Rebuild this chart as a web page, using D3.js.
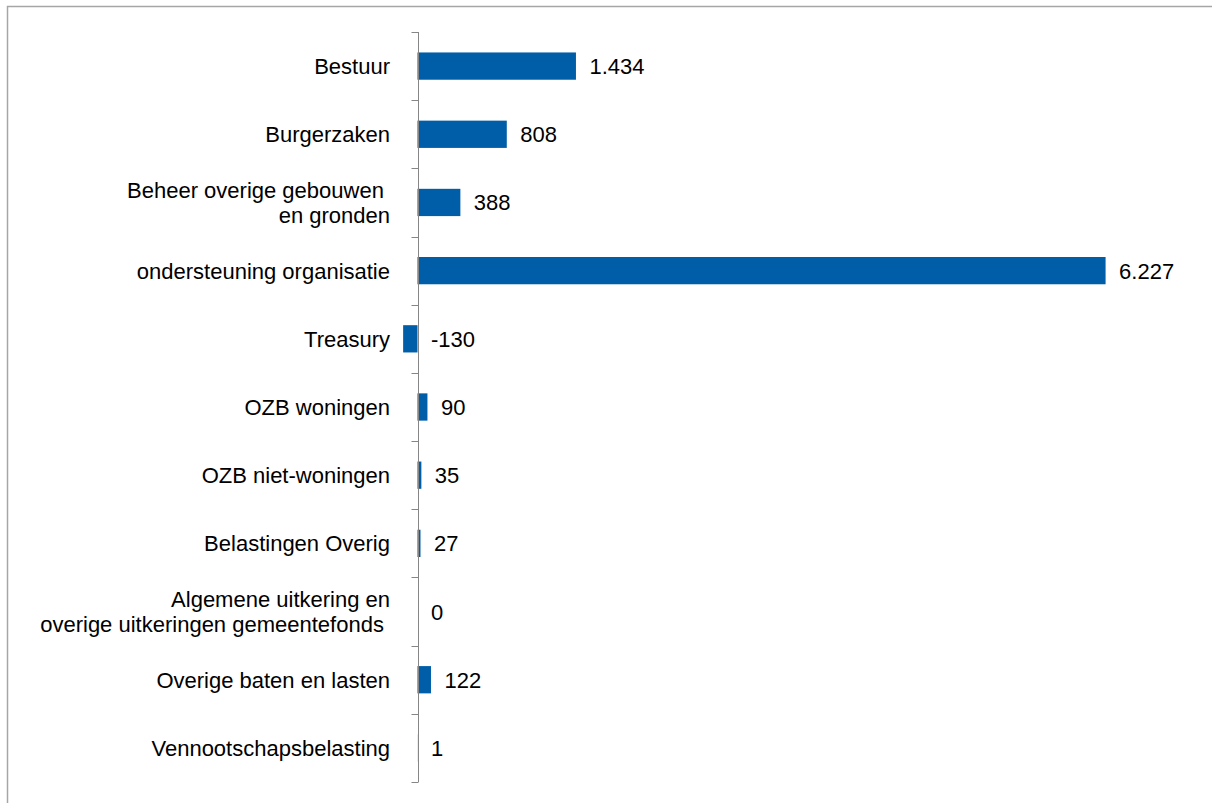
<!DOCTYPE html>
<html><head><meta charset="utf-8">
<script src="https://cdn.jsdelivr.net/npm/d3@7"></script>
<style>html,body{margin:0;padding:0;background:#fff;overflow:hidden}</style>
</head><body>
<svg id="c" width="1212" height="803"></svg>
<script>
const categories = [
  ["Bestuur"],
  ["Burgerzaken"],
  ["Beheer overige gebouwen\u00a0", "en gronden"],
  ["ondersteuning organisatie"],
  ["Treasury"],
  ["OZB woningen"],
  ["OZB niet-woningen"],
  ["Belastingen Overig"],
  ["Algemene uitkering en", "overige uitkeringen gemeentefonds\u00a0"],
  ["Overige baten en lasten"],
  ["Vennootschapsbelasting"]
];
const values = [1434, 808, 388, 6227, -130, 90, 35, 27, 0, 122, 1];
const valueLabels = ["1.434", "808", "388", "6.227", "-130", "90", "35", "27", "0", "122", "1"];

const svg = d3.select("#c");
svg.append("rect").attr("x", 7.5).attr("y", 6.5).attr("width", 1220).attr("height", 820)
  .attr("fill", "none").attr("stroke", "#A6A6A6").attr("stroke-width", 1.5);

const x = d3.scaleLinear().domain([-1000, 7000]).range([307, 1191]);
const idx = d3.range(categories.length);
const y = d3.scaleBand().domain(idx).range([32, 782]).paddingInner(0.6).paddingOuter(0.3);

const FONT = "'Liberation Sans', Arial, sans-serif";
const FS = 22;

const g = svg.append("g");
g.selectAll("rect.bar").data(idx).join("rect")
  .attr("x", i => x(Math.min(0, values[i])))
  .attr("y", i => y(i))
  .attr("width", i => Math.abs(x(values[i]) - x(0)))
  .attr("height", y.bandwidth())
  .attr("fill", "#005EA8");

const x0 = Math.round(x(0)) + 0.5;
g.append("line").attr("x1", x0).attr("x2", x0).attr("y1", 32).attr("y2", 782)
  .attr("stroke", "#868686").attr("stroke-width", 1);
const bounds = d3.range(categories.length + 1).map(i => 32 + i * 750 / categories.length);
g.selectAll("line.tick").data(bounds).join("line")
  .attr("x1", x0 - 7).attr("x2", x0).attr("y1", d => Math.round(d) + 0.5).attr("y2", d => Math.round(d) + 0.5)
  .attr("stroke", "#868686").attr("stroke-width", 1);

const lab = g.selectAll("text.cat").data(idx).join("text")
  .attr("text-anchor", "end")
  .style("font-family", FONT)
  .attr("font-size", FS).attr("fill", "#000");
lab.each(function(i) {
  const lines = categories[i];
  const cy = y(i) + y.bandwidth() / 2;
  const lh = 25;
  lines.forEach((t, k) => {
    d3.select(this).append("tspan")
      .attr("x", 390)
      .attr("y", cy + (k - (lines.length - 1) / 2) * lh + 8)
      .text(t);
  });
});

g.selectAll("text.val").data(idx).join("text")
  .attr("x", i => x(Math.max(0, values[i])) + 13.5)
  .attr("y", i => y(i) + y.bandwidth() / 2 + 8)
  .style("font-family", FONT)
  .attr("font-size", FS).attr("fill", "#000")
  .text(i => valueLabels[i]);
</script>
</body></html>
